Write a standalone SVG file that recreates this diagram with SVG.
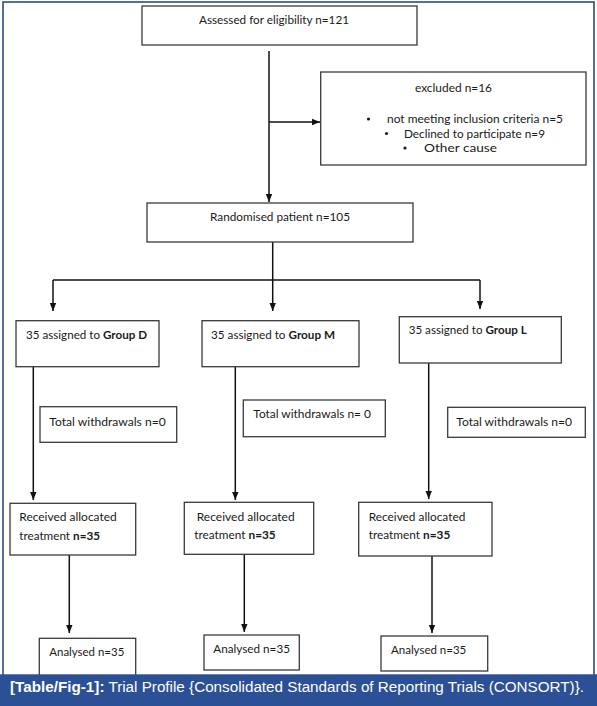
<svg xmlns="http://www.w3.org/2000/svg" width="597" height="706" viewBox="0 0 597 706">
<defs>
<marker id="ah" markerUnits="userSpaceOnUse" markerWidth="8" markerHeight="8" viewBox="0 0 8 8" refX="8" refY="4" orient="auto">
<path d="M0,0.8 L8,4 L0,7.2 Z" fill="#111"/>
</marker>
<style>
.box{fill:#fff;stroke:#3a3a3a;stroke-width:1.3}
.t{font-family:Lato,"Open Sans","Liberation Sans",sans-serif;font-size:12.2px;fill:#1a1a1a}
.b{font-weight:bold}
.ln{fill:none;stroke:#111;stroke-width:1.5}
.ar{fill:none;stroke:#111;stroke-width:1.5;marker-end:url(#ah)}
.cap{font-family:"Liberation Sans",Arial,sans-serif;font-size:15.5px;fill:#fff}
</style>
</defs>
<rect x="0" y="0" width="597" height="706" fill="#fff"/>
<rect x="3" y="2" width="591" height="680" fill="#fff" stroke="#2d4c7e" stroke-width="1.6"/>

<g id="connectors">
<line class="ar" x1="269" y1="51" x2="269" y2="202"/>
<line class="ar" x1="269" y1="122" x2="320" y2="122"/>
<line class="ln" x1="272.7" y1="242" x2="272.7" y2="280"/>
<line class="ln" x1="53" y1="280" x2="480" y2="280"/>
<line class="ar" x1="53" y1="280" x2="53" y2="311"/>
<line class="ar" x1="272.7" y1="280" x2="272.7" y2="311"/>
<line class="ar" x1="480" y1="280" x2="480" y2="309"/>
<line class="ar" x1="33.3" y1="367" x2="33.3" y2="500"/>
<line class="ar" x1="235.3" y1="367" x2="235.3" y2="500"/>
<line class="ar" x1="428.7" y1="363" x2="428.7" y2="499"/>
<line class="ar" x1="69.3" y1="555" x2="69.3" y2="633"/>
<line class="ar" x1="244.3" y1="554" x2="244.3" y2="632"/>
<line class="ar" x1="432" y1="556" x2="432" y2="633"/>
</g>

<g id="assessed">
<rect class="box" x="142" y="6" width="275" height="39"/>
<text class="t" x="199" y="24" textLength="150" lengthAdjust="spacingAndGlyphs">Assessed for eligibility n=121</text>
</g>

<g id="excluded">
<rect class="box" x="320.7" y="72" width="265.3" height="93"/>
<text class="t" x="415" y="92" textLength="77" lengthAdjust="spacingAndGlyphs">excluded n=16</text>
<circle cx="368.5" cy="119" r="1.6" fill="#1a1a1a"/>
<text class="t" x="387" y="123" textLength="176" lengthAdjust="spacingAndGlyphs">not meeting inclusion criteria n=5</text>
<circle cx="386.5" cy="133.5" r="1.6" fill="#1a1a1a"/>
<text class="t" x="404" y="137.5" textLength="141" lengthAdjust="spacingAndGlyphs">Declined to participate n=9</text>
<circle cx="405" cy="148" r="1.6" fill="#1a1a1a"/>
<text class="t" x="424" y="152" textLength="73" lengthAdjust="spacingAndGlyphs">Other cause</text>
</g>

<g id="randomised">
<rect class="box" x="147" y="203" width="266" height="39"/>
<text class="t" x="210" y="221" textLength="140" lengthAdjust="spacingAndGlyphs">Randomised patient n=105</text>
</g>

<g id="groupD">
<rect class="box" x="16" y="320.7" width="143" height="46"/>
<text class="t" x="26" y="339" textLength="121" lengthAdjust="spacingAndGlyphs">35 assigned to <tspan class="b">Group D</tspan></text>
</g>
<g id="groupM">
<rect class="box" x="202" y="320.7" width="157" height="46"/>
<text class="t" x="211" y="339" textLength="124" lengthAdjust="spacingAndGlyphs">35 assigned to <tspan class="b">Group M</tspan></text>
</g>
<g id="groupL">
<rect class="box" x="399.3" y="316.7" width="162" height="46.3"/>
<text class="t" x="408.7" y="334" textLength="118" lengthAdjust="spacingAndGlyphs">35 assigned to <tspan class="b">Group L</tspan></text>
</g>

<g id="withdrawD">
<rect class="box" x="40" y="406.7" width="136.7" height="35.6"/>
<text class="t" x="49.3" y="426" textLength="116.4" lengthAdjust="spacingAndGlyphs">Total withdrawals n=0</text>
</g>
<g id="withdrawM">
<rect class="box" x="243.3" y="400" width="142" height="36.7"/>
<text class="t" x="253.3" y="417.5" textLength="117.7" lengthAdjust="spacingAndGlyphs">Total withdrawals n= 0</text>
</g>
<g id="withdrawL">
<rect class="box" x="447.7" y="407.3" width="137.6" height="30"/>
<text class="t" x="456.3" y="426" textLength="115.7" lengthAdjust="spacingAndGlyphs">Total withdrawals n=0</text>
</g>

<g id="receivedD">
<rect class="box" x="10" y="503.3" width="125.7" height="51.7"/>
<text class="t" x="19.3" y="521" textLength="97.4" lengthAdjust="spacingAndGlyphs">Received allocated</text>
<text class="t" x="19.3" y="539.5" textLength="80.7" lengthAdjust="spacingAndGlyphs">treatment <tspan class="b">n=35</tspan></text>
</g>
<g id="receivedM">
<rect class="box" x="184.3" y="502.3" width="129.4" height="52"/>
<text class="t" x="196.7" y="520.5" textLength="98" lengthAdjust="spacingAndGlyphs">Received allocated</text>
<text class="t" x="194.3" y="539" textLength="81.4" lengthAdjust="spacingAndGlyphs">treatment <tspan class="b">n=35</tspan></text>
</g>
<g id="receivedL">
<rect class="box" x="358.7" y="502.3" width="133.3" height="53.7"/>
<text class="t" x="368.7" y="520.5" textLength="96.6" lengthAdjust="spacingAndGlyphs">Received allocated</text>
<text class="t" x="368.7" y="539" textLength="81.6" lengthAdjust="spacingAndGlyphs">treatment <tspan class="b">n=35</tspan></text>
</g>

<g id="analysedD">
<rect class="box" x="39.3" y="638.3" width="96.4" height="40"/>
<text class="t" x="49.3" y="656" textLength="75" lengthAdjust="spacingAndGlyphs">Analysed n=35</text>
</g>
<g id="analysedM">
<rect class="box" x="204" y="635" width="95.3" height="35"/>
<text class="t" x="213.3" y="652.5" textLength="76.7" lengthAdjust="spacingAndGlyphs">Analysed n=35</text>
</g>
<g id="analysedL">
<rect class="box" x="381" y="636" width="106.7" height="35"/>
<text class="t" x="391" y="654" textLength="75.3" lengthAdjust="spacingAndGlyphs">Analysed n=35</text>
</g>

<g id="caption">
<rect x="0" y="674.3" width="597" height="31.7" fill="#2c5095"/>
<text class="cap" x="10" y="692" textLength="574" lengthAdjust="spacingAndGlyphs"><tspan font-weight="bold">[Table/Fig-1]:</tspan>  Trial Profile {Consolidated Standards of Reporting Trials (CONSORT)}.</text>
</g>
</svg>
